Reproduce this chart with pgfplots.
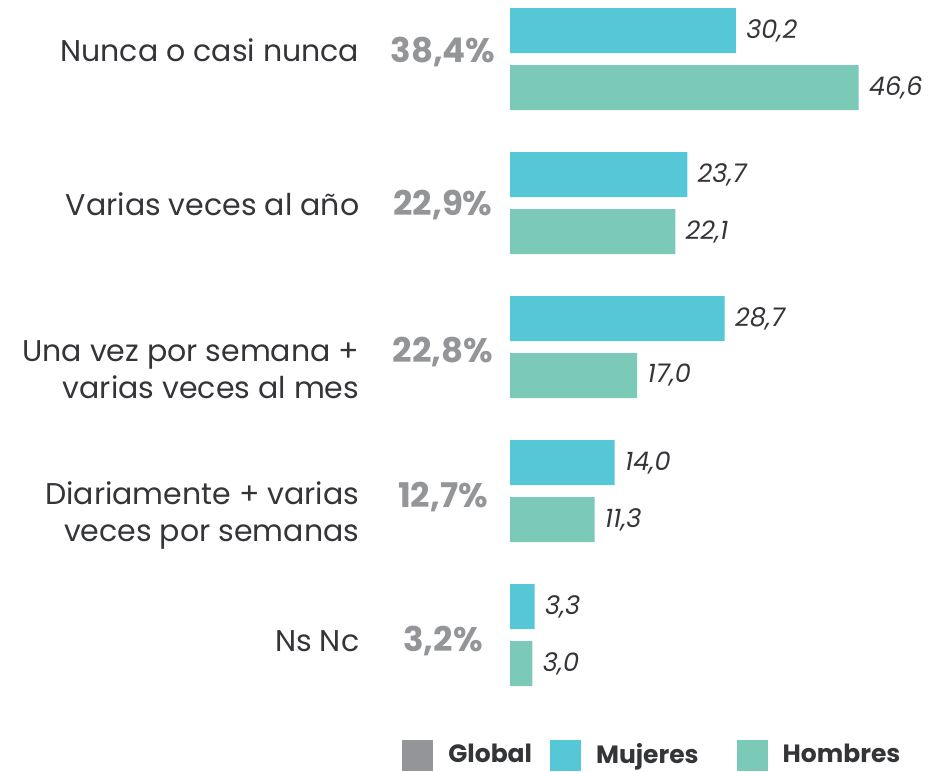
\documentclass[border=0pt]{standalone}
\usepackage{pgfplots}
\pgfplotsset{compat=1.18}
\usepackage{fontspec}
\setmainfont{Poppins}
\definecolor{muj}{HTML}{56C7D6}
\definecolor{hom}{HTML}{7ACAB7}
\definecolor{glob}{HTML}{939598}
\definecolor{txt}{HTML}{333538}
\begin{document}
\begin{tikzpicture}
\pgfplotsset{mylegend/.style={legend image code/.code={\fill (0pt,-7.75pt) rectangle (15.5pt,7.75pt);}}}
\begin{axis}[
 scale only axis, width=465.5pt, height=385.5pt,
 xmin=-68.18, xmax=56.28, ymin=-0.4097, ymax=4.944, y dir=reverse,
 hide axis, clip=false,
 xbar, bar width=22.5pt, bar shift=0pt,
 point meta=x,
 nodes near coords={\pgfmathprintnumber[fixed,fixed zerofill,precision=1,use comma,assume math mode=true]{\pgfplotspointmeta}},
 nodes near coords style={anchor=west, inner sep=0pt, xshift=5pt, font=\fontsize{12.8}{14}\selectfont\itshape, text=txt},
 legend columns=3,
 legend style={at={(axis cs:-14.44,4.833)}, anchor=west, draw=none, fill=none, inner sep=0pt,
   font=\fontsize{12.5}{14}\selectfont\bfseries, text=txt, legend cell align=left,
   nodes={inner sep=0pt},
   /tikz/every odd column/.append style={column sep=7.5pt},
   /tikz/every even column/.append style={column sep=9pt}},
]
\path (rel axis cs:0,0) rectangle (rel axis cs:1,1);
\addlegendimage{fill=glob, draw=none, mylegend}
\addlegendentry{Global}
\addplot[fill=muj, draw=none, mylegend] coordinates {
 (30.2,-0.1979) (23.7,0.8021) (28.7,1.8021) (14.0,2.8021) (3.3,3.8021)};
\addlegendentry{Mujeres\hspace*{10pt}}
\addplot[fill=hom, draw=none, mylegend] coordinates {
 (46.6,0.1979) (22.1,1.1979) (17.0,2.1979) (11.3,3.1979) (3.0,4.1979)};
\addlegendentry{Hombres}

\tikzset{cat/.style={anchor=east, align=right, inner sep=0pt, font=\fontsize{15}{18.5}\selectfont, text=txt},
 pct/.style={font=\fontsize{17}{20}\selectfont\bfseries, text=glob}}
\node[cat] at (axis cs:-20.1,-0.0625) {Nunca o casi nunca};
\node[cat] at (axis cs:-20.1,1.007) {Varias veces al año};
\node[cat] at (axis cs:-20.1,2.160) {Una vez por semana +\\varias veces al mes};
\node[cat] at (axis cs:-20.1,3.167) {Diariamente + varias\\veces por semanas};
\node[cat] at (axis cs:-20.1,4.042) {Ns Nc};
\node[pct] at (axis cs:-8.96,-0.049) {38,4\%};
\node[pct] at (axis cs:-8.96,1.014) {22,9\%};
\node[pct] at (axis cs:-8.96,2.035) {22,8\%};
\node[pct] at (axis cs:-8.96,3.042) {12,7\%};
\node[pct] at (axis cs:-8.96,4.042) {3,2\%};
\end{axis}
\end{tikzpicture}
\end{document}
